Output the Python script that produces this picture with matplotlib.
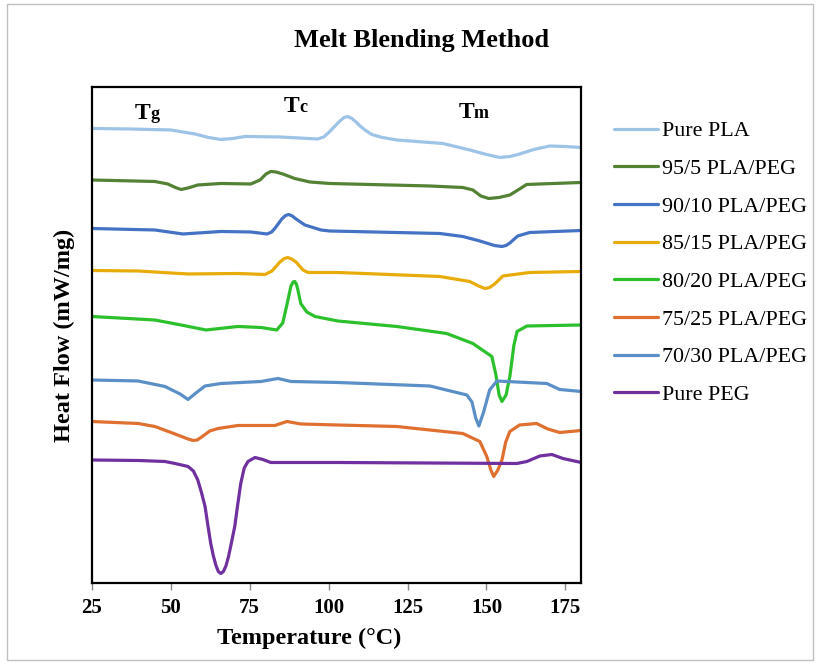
import numpy as np
import matplotlib
matplotlib.use("Agg")
import matplotlib.pyplot as plt
from matplotlib.patches import Rectangle

# DSC curves, temperature (C) and stacked heat flow (arbitrary offset units)
labels = ["Pure PLA", "95/5 PLA/PEG", "90/10 PLA/PEG", "85/15 PLA/PEG",
          "80/20 PLA/PEG", "75/25 PLA/PEG", "70/30 PLA/PEG", "Pure PEG"]
colors = ["#9DC3E6", "#548235", "#4472C4", "#E8AC0A",
          "#2CC12C", "#E07030", "#5B8FC7", "#7030A0"]

t_pla = [25.0, 37.1, 50.1, 57.7, 62.0, 65.9, 69.7, 73.5, 84.6, 96.6, 98.5, 100.4, 101.9,
         103.6, 104.9, 106.1, 107.4, 108.7, 110.0, 111.5, 113.7, 117.0, 121.6, 136.2,
         144.7, 150.0, 154.2, 157.5, 160.5, 165.0, 170.0, 174.8, 180.0]
hf_pla = [9.09, 9.08, 9.06, 8.98, 8.91, 8.87, 8.89, 8.93, 8.92, 8.88, 8.92, 9.03, 9.13,
          9.24, 9.31, 9.33, 9.29, 9.22, 9.14, 9.06, 8.97, 8.91, 8.86, 8.79,
          8.66, 8.57, 8.51, 8.53, 8.58, 8.67, 8.74, 8.73, 8.71]

t_95 = [25.0, 45.0, 49.1, 51.5, 53.3, 55.5, 58.6, 65.9, 75.4, 78.3, 80.2, 81.7, 83.4,
        85.5, 89.3, 94.1, 100.4, 132.1, 142.5, 145.7, 148.2, 150.7, 154.0, 157.4,
        160.5, 162.7, 180.0]
hf_95 = [8.06, 8.03, 7.98, 7.91, 7.87, 7.90, 7.96, 7.99, 7.98, 8.06, 8.18, 8.23, 8.22,
         8.18, 8.09, 8.02, 7.99, 7.94, 7.91, 7.86, 7.74, 7.69, 7.71, 7.76,
         7.88, 7.97, 8.01]

t_90 = [25.0, 45.0, 53.9, 65.9, 75.4, 80.5, 82.0, 83.1, 85.2, 86.4, 87.4, 88.5, 89.7,
        92.5, 97.6, 100.4, 135.2, 142.5, 147.9, 152.5, 154.9, 156.2, 157.4, 159.9,
        163.7, 180.0]
hf_90 = [7.09, 7.06, 6.98, 7.03, 7.02, 6.98, 7.02, 7.10, 7.28, 7.35, 7.37, 7.34, 7.28,
         7.16, 7.06, 7.04, 6.99, 6.93, 6.84, 6.75, 6.73, 6.75, 6.80, 6.94,
         7.01, 7.05]

t_85 = [25.0, 39.7, 55.5, 71.3, 79.9, 82.1, 84.6, 86.0, 87.1, 88.3, 89.7, 91.9, 93.5,
        103.0, 135.2, 144.7, 147.5, 149.5, 151.0, 152.6, 155.2, 163.7, 180.0]
hf_85 = [6.25, 6.24, 6.18, 6.19, 6.17, 6.24, 6.42, 6.49, 6.51, 6.48, 6.42, 6.26, 6.21,
         6.21, 6.13, 6.03, 5.94, 5.89, 5.91, 5.98, 6.14, 6.21, 6.23]

t_80 = [25.0, 45.0, 53.3, 61.2, 71.3, 78.6, 83.6, 85.5, 86.8, 88.1, 88.8, 89.3, 89.8,
        90.3, 91.2, 93.1, 95.7, 102.9, 121.6, 137.4, 145.7, 151.7, 153.0, 154.0,
        154.9, 156.2, 157.4, 158.7, 159.7, 162.8, 180.0]
hf_80 = [5.33, 5.26, 5.16, 5.06, 5.13, 5.11, 5.06, 5.20, 5.56, 5.94, 6.02, 6.03, 5.98,
         5.86, 5.59, 5.42, 5.33, 5.24, 5.13, 4.99, 4.79, 4.53, 4.16, 3.76,
         3.63, 3.76, 4.13, 4.76, 5.03, 5.14, 5.16]

t_75 = [25.0, 39.7, 45.0, 51.4, 55.5, 57.1, 58.4, 59.6, 62.4, 65.0, 71.3, 83.0, 86.8,
        91.2, 102.9, 121.6, 142.5, 147.9, 150.1, 151.4, 152.3, 153.6, 154.9, 156.1,
        157.4, 160.5, 165.9, 169.4, 173.2, 180.0]
hf_75 = [3.23, 3.19, 3.13, 2.98, 2.88, 2.85, 2.86, 2.91, 3.04, 3.09, 3.15, 3.15, 3.23,
         3.18, 3.16, 3.13, 2.99, 2.83, 2.53, 2.26, 2.13, 2.26, 2.46, 2.82,
         3.03, 3.16, 3.19, 3.08, 3.01, 3.05]

t_70 = [25.0, 39.7, 48.2, 53.0, 55.5, 58.0, 60.9, 65.9, 78.6, 84.0, 88.1, 102.9,
        132.1, 143.8, 145.4, 146.6, 147.6, 149.1, 151.0, 153.3, 169.1, 173.2, 180.0]
hf_70 = [4.06, 4.04, 3.93, 3.78, 3.67, 3.80, 3.94, 3.99, 4.03, 4.09, 4.03, 4.01,
         3.94, 3.76, 3.62, 3.30, 3.14, 3.42, 3.86, 4.04, 3.99, 3.87, 3.83]

t_peg = [25.0, 39.7, 48.2, 51.4, 55.5, 57.2, 58.6, 59.8, 60.9, 61.8, 62.7, 63.5, 64.3,
         65.1, 65.9, 66.7, 67.5, 68.3, 69.1, 70.3, 71.2, 72.2, 73.3, 74.5, 76.7,
         79.2, 81.7, 102.9, 159.6, 162.8, 166.9, 170.7, 174.2, 180.0]
hf_peg = [2.46, 2.45, 2.43, 2.39, 2.33, 2.24, 2.06, 1.80, 1.53, 1.15, 0.79, 0.55, 0.36,
          0.23, 0.19, 0.23, 0.34, 0.52, 0.76, 1.13, 1.55, 1.99, 2.30, 2.43, 2.51,
          2.47, 2.41, 2.41, 2.39, 2.43, 2.54, 2.57, 2.49, 2.41]

temps = [t_pla, t_95, t_90, t_85, t_80, t_75, t_70, t_peg]
flows = [hf_pla, hf_95, hf_90, hf_85, hf_80, hf_75, hf_70, hf_peg]

plt.rcParams['font.family'] = ['Liberation Serif', 'DejaVu Serif']

fig = plt.figure(figsize=(8.2, 6.64), dpi=100)
ax = fig.add_axes([0.1118, 0.122, 0.597, 0.747])

# 75/25 is drawn before 70/30 so the blue dip stays on top
order = [0, 1, 2, 3, 4, 6, 5, 7]
lines = {}
for i in order:
    ln, = ax.plot(temps[i], flows[i], color=colors[i], lw=2.3,
                  solid_joinstyle='round', solid_capstyle='round', label=labels[i])
    lines[i] = ln

ax.set_xlim(25, 180)
ax.set_ylim(0, 9.92)
ax.set_xticks([25, 50, 75, 100, 125, 150, 175])
ax.set_yticks([])
ax.tick_params(axis='x', direction='out', length=5, width=1, color='#888888',
               labelsize=15, pad=6)
for lab in ax.get_xticklabels():
    lab.set_fontweight('bold')
for sp in ax.spines.values():
    sp.set_linewidth(1.6)
    sp.set_color('black')

ax.set_xlabel("Temperature (°C)", fontsize=17.5, fontweight='bold')
ax.xaxis.set_label_coords(0.444, -0.09)
ax.set_ylabel("Heat Flow (mW/mg)", fontsize=17.5, fontweight='bold')
ax.yaxis.set_label_coords(-0.034, 0.5)
fig.text(0.514, 0.939, "Melt Blending Method", ha='center', va='center',
         fontsize=19, fontweight='bold')

# transition markers
for x, y, sub in [(38.7, 9.28, 'g'), (85.9, 9.41, 'c'), (141.2, 9.29, 'm')]:
    ax.text(x, y, 'T', fontsize=17, fontweight='bold', va='baseline', ha='left')
    ax.annotate(sub, xy=(x, y), xytext=(11, 0), textcoords='offset points',
                fontsize=13, fontweight='bold', va='baseline', ha='left')

handles = [lines[i] for i in range(8)]
fig.legend(handles, labels, loc='upper left', bbox_to_anchor=(0.749, 0.818),
           frameon=False, fontsize=15.8, handlelength=2.0, handletextpad=0.18,
           labelspacing=0.79, borderpad=0, borderaxespad=0)

# thin outline round the whole chart area
fig.patches.append(Rectangle((0.009, 0.006), 0.982, 0.988, transform=fig.transFigure,
                             fill=False, edgecolor='#BFBFBF', lw=1))

fig.savefig("out.png", dpi=100)
